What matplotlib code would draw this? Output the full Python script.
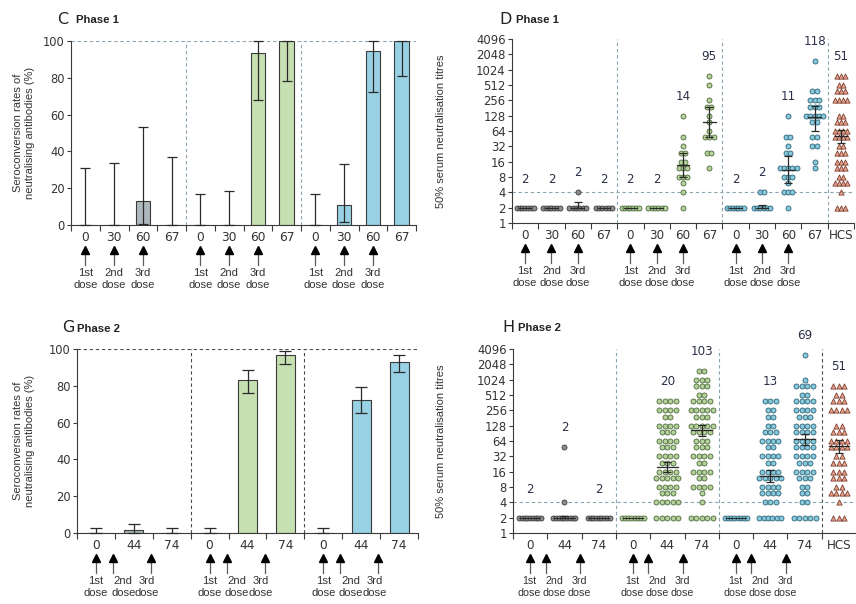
import numpy as np
import matplotlib.pyplot as plt
from matplotlib.ticker import NullLocator

plt.rcParams['font.family'] = ['DejaVu Sans']
plt.rcParams['axes.linewidth'] = 0.8

WORDS = ['Liberation Sans', 'DejaVu Sans']
INK = '#3a3a3a'
TXT = '#333333'
NUM = '#2b3048'
DIV_LIGHT = '#8aa4b2'
DIV_DARK = '#4a4a4a'

# bar fill, dot fill, dot edge
GREY = ('#aeb7bc', '#8e8e8e', '#3b3b3b')
GREEN = ('#c6e0b2', '#b6d29c', '#4c6a3a')
BLUE = ('#98d1e4', '#88c9de', '#2c6475')
HCS_FILL, HCS_EDGE = '#e8a38b', '#7b3e30'

# ---------------- phase 1 ----------------
p1_days = ['0', '30', '60', '67']

sero1_grey = [0, 0, 13, 0]
sero1_grey_lo = [0, 0, 0.5, 0]
sero1_grey_hi = [31, 33.5, 53, 37]
sero1_green = [0, 0, 93.5, 100]
sero1_green_lo = [0, 0, 68, 78]
sero1_green_hi = [17, 18.5, 100, 100]
sero1_blue = [0, 11, 94.5, 100]
sero1_blue_lo = [0, 1.5, 72.5, 81]
sero1_blue_hi = [17, 33, 100, 100]

# titre -> number of participants, one dict per visit
tit1_grey = [{2: 7}, {2: 7}, {4: 1, 2: 6}, {2: 6}]
tit1_green = [
    {2: 7},
    {2: 6},
    {128: 1, 48: 1, 32: 1, 24: 2, 16: 2, 12: 3, 8: 3, 6: 1, 4: 1, 2: 1},
    {768: 1, 512: 1, 256: 1, 192: 2, 128: 1, 96: 1, 64: 1, 48: 3, 24: 2, 12: 1},
]
tit1_blue = [
    {2: 7},
    {4: 2, 2: 6},
    {128: 1, 48: 2, 32: 1, 24: 2, 12: 5, 8: 3, 6: 1, 4: 3, 2: 1},
    {1536: 1, 384: 2, 256: 3, 192: 3, 128: 5, 96: 2, 48: 2, 32: 2, 16: 1, 12: 1},
]
gmt1_grey = [2, 2, 2, 2]
gmt1_grey_lo = [2, 2, 2, 2]
gmt1_grey_hi = [2, 2, 2.6, 2]
gmt1_green = [2, 2, 14, 95]
gmt1_green_lo = [2, 2, 8, 48]
gmt1_green_hi = [2, 2, 24, 192]
gmt1_blue = [2, 2, 11, 118]
gmt1_blue_lo = [2, 2, 6, 64]
gmt1_blue_hi = [2, 2.3, 21, 200]

# ---------------- phase 2 ----------------
p2_days = ['0', '44', '74']

sero2_grey = [0, 1.5, 0]
sero2_grey_lo = [0, 0, 0]
sero2_grey_hi = [2.5, 5, 2.5]
sero2_green = [0, 83, 96.5]
sero2_green_lo = [0, 76, 92]
sero2_green_hi = [2.5, 88.5, 99]
sero2_blue = [0, 72.5, 93]
sero2_blue_lo = [0, 65, 87.5]
sero2_blue_hi = [2.5, 79.5, 96.5]

tit2_grey = [{2: 9}, {48: 1, 4: 1, 2: 9}, {2: 9}]
tit2_green = [
    {2: 8},
    {384: 4, 256: 4, 192: 2, 128: 4, 96: 3, 64: 4, 48: 3, 32: 4, 24: 3,
     16: 4, 12: 5, 8: 4, 6: 3, 4: 5, 2: 5},
    {1536: 2, 1024: 3, 768: 3, 512: 2, 384: 4, 256: 5, 192: 3, 128: 5, 96: 4,
     64: 3, 48: 3, 32: 4, 24: 2, 16: 4, 12: 2, 8: 4, 6: 1, 4: 1, 2: 5},
]
tit2_blue = [
    {2: 8},
    {384: 3, 256: 2, 192: 2, 128: 2, 96: 3, 64: 4, 48: 2, 32: 4, 24: 2,
     16: 4, 12: 5, 8: 4, 6: 4, 4: 3, 2: 6},
    {3072: 1, 1024: 1, 768: 4, 512: 2, 384: 4, 256: 4, 192: 3, 128: 4, 96: 4,
     64: 4, 48: 4, 32: 4, 24: 3, 16: 4, 12: 3, 8: 2, 6: 2, 4: 2, 2: 5},
]
gmt2_grey = [2, 2, 2]
gmt2_grey_lo = [2, 2, 2]
gmt2_grey_hi = [2, 2.2, 2]
gmt2_green = [2, 20, 103]
gmt2_green_lo = [2, 16, 82]
gmt2_green_hi = [2, 25, 130]
gmt2_blue = [2, 13, 69]
gmt2_blue_lo = [2, 10, 54]
gmt2_blue_hi = [2, 17, 88]
show2_grey = [True, True, True]
show2_green = [False, True, True]
show2_blue = [False, True, True]

# convalescent sera
hcs_titres = {768: 3, 512: 2, 384: 3, 256: 4, 128: 2, 96: 3, 64: 4, 48: 4, 32: 2,
              24: 3, 16: 3, 12: 3, 8: 2, 6: 4, 4: 1, 2: 3}
hcs_gmt, hcs_lo, hcs_hi = 51, 38, 68

titre_ticks = [2 ** k for k in range(13)]


def base_axes(ax, ncat, centers, labels, size, ysize):
    ax.set_xlim(-0.5, ncat - 0.5)
    for s in ['top', 'right']:
        ax.spines[s].set_visible(False)
    for s in ['left', 'bottom']:
        ax.spines[s].set_color(INK)
    ax.set_xticks(centers)
    ax.set_xticklabels(labels)
    ax.set_xticks(np.arange(ncat + 1) - 0.5, minor=True)
    ax.tick_params(axis='x', which='major', length=0, pad=4, labelsize=size, labelcolor=TXT)
    ax.tick_params(axis='x', which='minor', length=4, width=0.8, color=INK)
    ax.tick_params(axis='y', length=3, width=0.8, color=INK, labelsize=ysize,
                   labelcolor=TXT, pad=1.5)


def dose_marks(ax, arrow_x, label_x, fs):
    tr = ax.get_xaxis_transform()
    for x in arrow_x:
        ax.plot([x, x], [-0.14, -0.218], transform=tr, color='#5c5c5c', lw=0.9,
                clip_on=False)
        ax.plot(x, -0.137, marker='^', ms=6.2, color='black', transform=tr,
                clip_on=False)
    for x, name in zip(label_x, ['1st', '2nd', '3rd']):
        ax.text(x, -0.232, name + '\ndose', transform=tr, ha='center', va='top',
                fontsize=fs, family=WORDS, color=TXT, linespacing=1.3)


def sero_panel(ax, groups, days, div_color, cap, arrow_off, label_off):
    n = len(days)
    ncat = n * len(groups)
    for g, (vals, lo, hi, col) in enumerate(groups):
        xs = np.arange(n) + g * n
        ax.bar(xs, vals, width=0.5, color=col, edgecolor=INK, linewidth=0.8, zorder=2)
        ax.errorbar(xs, vals, yerr=[np.subtract(vals, lo), np.subtract(hi, vals)],
                    fmt='none', ecolor='#2a2a2a', elinewidth=0.9, capsize=cap,
                    capthick=0.9, zorder=3, clip_on=False)
        dose_marks(ax, g * n + np.array(arrow_off), g * n + np.array(label_off), 8.1)
        if g > 0:
            ax.axvline(g * n - 0.5, color=div_color, ls=(0, (3, 2.5)), lw=0.8, zorder=1)
    ax.axhline(100, color=div_color, ls=(0, (3, 2.5)), lw=0.8, zorder=1)
    ax.set_ylim(0, 100)
    ax.set_yticks([0, 20, 40, 60, 80, 100])
    base_axes(ax, ncat, np.arange(ncat), days * len(groups), 8.8, 8.3)


def swarm(ax, x0, counts, fill, edge, marker, step, size):
    xs, ys = [], []
    for v, n in counts.items():
        gap = min(step, 4 * step / max(n - 1, 1))
        xs.extend(x0 + (np.arange(n) - (n - 1) / 2) * gap)
        ys.extend([v] * n)
    ax.scatter(xs, ys, s=size, c=fill, edgecolors=edge, linewidths=0.6,
               marker=marker, zorder=3, clip_on=False)


def gmt_mark(ax, x0, gmt, lo, hi, half, cap):
    ax.plot([x0 - half, x0 + half], [gmt, gmt], color='#2a2a2a', lw=0.9, zorder=4)
    if hi > lo:
        ax.errorbar(x0, gmt, yerr=[[gmt - lo], [hi - gmt]], fmt='none',
                    ecolor='#2a2a2a', elinewidth=0.9, capsize=cap, capthick=0.9,
                    zorder=4)


def titre_panel(ax, groups, days, step, half, divs, arrow_off, label_off, fs):
    n = len(days)
    ncat = n * len(groups) + 1
    for g, (tit, gmt, lo, hi, show, col) in enumerate(groups):
        for i in range(n):
            x0 = g * n + i
            swarm(ax, x0, tit[i], col[1], col[2], 'o', step, 13)
            gmt_mark(ax, x0, gmt[i], lo[i], hi[i], half, 2.6)
            if show[i]:
                top = max(tit[i])
                ax.text(x0, max(top * 2.4, 7), f'{gmt[i]:g}', ha='center', va='center',
                        fontsize=8.6, color=NUM)
        dose_marks(ax, g * n + np.array(arrow_off), g * n + np.array(label_off), fs)
    xh = ncat - 1
    swarm(ax, xh, hcs_titres, HCS_FILL, HCS_EDGE, '^', step, 14)
    gmt_mark(ax, xh, hcs_gmt, hcs_lo, hcs_hi, half, 2.6)
    ax.text(xh, max(hcs_titres) * 2.4, f'{hcs_gmt:g}', ha='center', va='center',
            fontsize=8.6, color=NUM)
    for k, c in enumerate(divs):
        ax.axvline((k + 1) * n - 0.5, color=c, ls=(0, (3, 2.5)), lw=0.8, zorder=1)
    ax.axhline(4, color=DIV_LIGHT, ls=(0, (3, 2.5)), lw=0.8, zorder=1)
    ax.set_yscale('log', base=2)
    ax.set_ylim(1, 4096)
    ax.set_yticks(titre_ticks)
    ax.set_yticklabels([str(t) for t in titre_ticks])
    ax.yaxis.set_minor_locator(NullLocator())
    base_axes(ax, ncat, np.arange(ncat), days * len(groups) + ['HCS'], 8.6, 8.4)


W, H = 856, 604
fig = plt.figure(figsize=(W / 100, H / 100), dpi=100)


def rect(left, top, right, bottom):
    return [left / W, 1 - bottom / H, (right - left) / W, (bottom - top) / H]


axC = fig.add_axes(rect(71, 41, 416, 225))
axD = fig.add_axes(rect(512, 39, 854, 223))
axG = fig.add_axes(rect(77, 349, 418, 533))
axH = fig.add_axes(rect(513, 349, 856, 533))

sero_panel(axC, [(sero1_grey, sero1_grey_lo, sero1_grey_hi, GREY[0]),
                 (sero1_green, sero1_green_lo, sero1_green_hi, GREEN[0]),
                 (sero1_blue, sero1_blue_lo, sero1_blue_hi, BLUE[0])],
           p1_days, DIV_LIGHT, 3.6, [0, 1, 2], [0, 1, 2])

sero_panel(axG, [(sero2_grey, sero2_grey_lo, sero2_grey_hi, GREY[0]),
                 (sero2_green, sero2_green_lo, sero2_green_hi, GREEN[0]),
                 (sero2_blue, sero2_blue_lo, sero2_blue_hi, BLUE[0])],
           p2_days, DIV_DARK, 4.3, [0, 0.45, 1.45], [0, 0.72, 1.35])

titre_panel(axD, [(tit1_grey, gmt1_grey, gmt1_grey_lo, gmt1_grey_hi, [True] * 4, GREY),
                  (tit1_green, gmt1_green, gmt1_green_lo, gmt1_green_hi, [True] * 4, GREEN),
                  (tit1_blue, gmt1_blue, gmt1_blue_lo, gmt1_blue_hi, [True] * 4, BLUE)],
            p1_days, 0.16, 0.24, [DIV_LIGHT, DIV_LIGHT, DIV_LIGHT], [0, 1, 2], [0, 1, 2],
            8.1)

titre_panel(axH, [(tit2_grey, gmt2_grey, gmt2_grey_lo, gmt2_grey_hi, show2_grey, GREY),
                  (tit2_green, gmt2_green, gmt2_green_lo, gmt2_green_hi, show2_green, GREEN),
                  (tit2_blue, gmt2_blue, gmt2_blue_lo, gmt2_blue_hi, show2_blue, BLUE)],
            p2_days, 0.16, 0.3, [DIV_LIGHT, DIV_LIGHT, DIV_DARK], [0, 0.45, 1.45],
            [-0.03, 0.7, 1.44], 7.7)

# panel letters and headings
for x, y, letter, xp, phase in [(57, 19, 'C', 76, 'Phase 1'), (499, 19, 'D', 516, 'Phase 1'),
                                (62, 328, 'G', 77, 'Phase 2'), (502, 327, 'H', 518, 'Phase 2')]:
    fig.text(x / W, 1 - y / H, letter, fontsize=11.5, va='center', color='#222222')
    fig.text(xp / W, 1 - (y + 1) / H, phase, fontsize=8.2, fontweight='bold',
             family=WORDS, va='center', color='#222222')

sero_label = 'Seroconversion rates of\nneutralising antibodies (%)'
for y in (133, 441):
    fig.text(24 / W, 1 - y / H, sero_label, rotation=90, ha='center', va='center',
             fontsize=8, family=WORDS, color=TXT, linespacing=1.35)
for y in (131, 441):
    fig.text(441 / W, 1 - y / H, '50% serum neutralisation titres', rotation=90,
             ha='center', va='center', fontsize=8, family=WORDS, color=TXT)

fig.savefig('out.png', dpi=100)
